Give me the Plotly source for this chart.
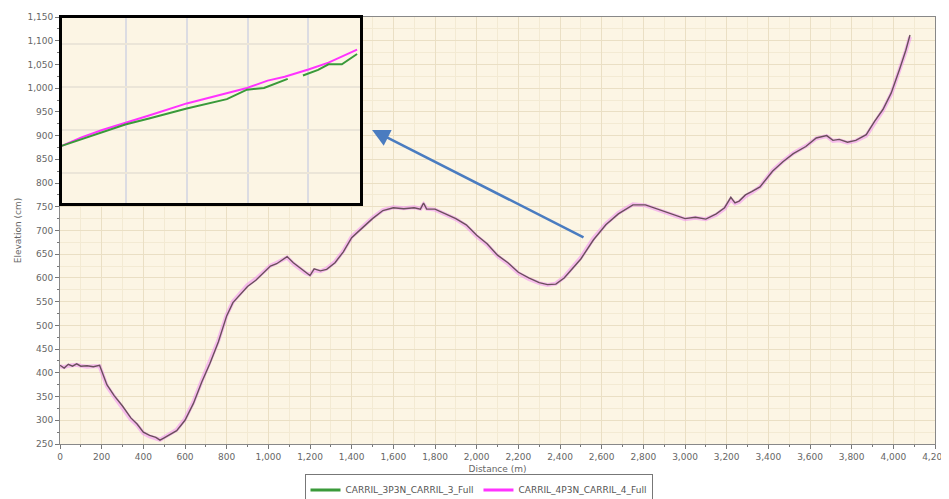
import plotly.graph_objects as go

# ---- main profile (distance in m, elevation) ----
dist = [0, 20, 40, 60, 80, 100, 130, 160, 190, 200, 225, 260, 300, 340, 370, 400, 430, 460, 480, 500,
        530, 560, 600, 640, 680, 720, 760, 800, 830, 860, 900, 940, 980, 1010, 1040, 1070, 1090, 1120,
        1150, 1180, 1200, 1220, 1250, 1280, 1320, 1360, 1400, 1450, 1500, 1550, 1600, 1650, 1700, 1730,
        1745, 1760, 1800, 1850, 1900, 1950, 2000, 2050, 2100, 2150, 2200, 2250, 2300, 2340, 2380, 2420,
        2460, 2500, 2560, 2620, 2680, 2750, 2810, 2850, 2880, 2940, 3000, 3050, 3100, 3150, 3190, 3220,
        3240, 3260, 3290, 3320, 3360, 3420, 3470, 3520, 3580, 3630, 3680, 3710, 3740, 3780, 3820, 3870,
        3910, 3950, 3990, 4030, 4060, 4080]
elev_3 = [416, 410, 418, 414, 419, 414, 415, 413, 416, 405, 375, 352, 330, 305, 292, 275, 268, 264, 258, 263,
          270, 278, 300, 335, 380, 420, 465, 520, 548, 562, 582, 595, 612, 625, 630, 638, 645, 632,
          622, 612, 605, 619, 615, 618, 632, 655, 685, 705, 725, 742, 748, 746, 748, 745,
          758, 745, 745, 735, 725, 712, 690, 672, 648, 632, 612, 600, 590, 586, 587, 600,
          620, 640, 680, 712, 735, 754, 754, 748, 742, 733, 725, 728, 724, 735, 748, 770,
          758, 762, 775, 782, 792, 825, 845, 862, 877, 895, 900, 890, 892, 886, 890, 902,
          930, 955, 990, 1040, 1080, 1112]
elev_4 = [414, 412, 415, 416, 417, 415, 413, 414, 414, 402, 372, 350, 327, 302, 290, 273, 266, 262, 259, 264,
          272, 280, 303, 338, 383, 423, 468, 522, 550, 565, 585, 598, 614, 626, 632, 640, 643, 630,
          620, 610, 607, 616, 614, 620, 634, 657, 687, 707, 727, 743, 749, 747, 749, 746,
          755, 746, 744, 734, 724, 710, 688, 670, 646, 630, 610, 598, 589, 585, 588, 602,
          622, 643, 683, 714, 737, 755, 753, 747, 741, 732, 724, 727, 724, 733, 746, 766,
          757, 760, 772, 780, 792, 826, 846, 863, 878, 894, 899, 889, 890, 885, 889, 900,
          928, 953, 988, 1038, 1078, 1108]

# ---- zoomed inset (relative units) ----
inset_x_4 = [-6, 27, 61, 99, 138, 200, 266, 299, 333, 361, 400, 433, 480]
inset_y_4 = [6.2, 8.2, 9.9, 11.5, 13.3, 16.1, 18.5, 19.7, 21.4, 22.3, 24.0, 25.6, 28.6]
inset_x_3 = [-6, 27, 61, 99, 138, 200, 266, 299, 327, 366, None, 391, 416, 433, 455, 480]
inset_y_3 = [6.2, 7.8, 9.4, 11.2, 12.6, 14.9, 17.1, 19.3, 19.7, 21.8, None, 22.6, 23.9, 25.2, 25.2, 27.6]

name_3 = "CARRIL_3P3N_CARRIL_3_Full"
name_4 = "CARRIL_4P3N_CARRIL_4_Full"
green = "#3a9a3a"
magenta = "#ff33ff"

fig = go.Figure()

# main traces
fig.add_trace(go.Scatter(x=dist, y=elev_4, mode="lines", showlegend=False,
                         line=dict(color="rgba(240,140,240,0.55)", width=4), hoverinfo="skip"))
fig.add_trace(go.Scatter(x=dist, y=elev_3, mode="lines", showlegend=False,
                         line=dict(color="#6a4f5c", width=1.4)))

# legend entries
fig.add_trace(go.Scatter(x=[None], y=[None], mode="lines", name=name_3, line=dict(color=green, width=3)))
fig.add_trace(go.Scatter(x=[None], y=[None], mode="lines", name=name_4, line=dict(color=magenta, width=3)))

# inset traces
fig.add_trace(go.Scatter(x=inset_x_4, y=inset_y_4, mode="lines", showlegend=False, xaxis="x2", yaxis="y2",
                         line=dict(color=magenta, width=2)))
fig.add_trace(go.Scatter(x=inset_x_3, y=inset_y_3, mode="lines", showlegend=False, xaxis="x2", yaxis="y2",
                         line=dict(color=green, width=2), connectgaps=False))

tickfont = dict(family="DejaVu Sans", size=9, color="#666666")

fig.update_layout(
    width=941, height=491,
    margin=dict(l=52, r=14, t=9, b=55),
    paper_bgcolor="white",
    plot_bgcolor="#fcf5e4",
    xaxis=dict(range=[0, 4200], tickvals=list(range(0, 4201, 200)), tickformat=",",
               showgrid=True, gridcolor="#eadfc4", gridwidth=1,
               minor=dict(dtick=100, showgrid=True, gridcolor="#f3ead3", ticks="outside", ticklen=2, tickcolor="#777"),
               ticks="outside", ticklen=4, tickcolor="#777",
               showline=True, linecolor="#888888", linewidth=1, mirror=True,
               zeroline=False, tickfont=tickfont, automargin=False,
               title=dict(text="Distance (m)", font=dict(family="DejaVu Sans", size=9, color="#666666"), standoff=10),
               domain=[0, 1]),
    yaxis=dict(range=[250, 1150], tickvals=list(range(250, 1151, 50)), tickformat=",",
               showgrid=True, gridcolor="#eadfc4", gridwidth=1,
               minor=dict(dtick=25, showgrid=True, gridcolor="#f3ead3", ticks="outside", ticklen=2, tickcolor="#777"),
               ticks="outside", ticklen=4, tickcolor="#777",
               showline=True, linecolor="#888888", linewidth=1, mirror=True,
               zeroline=False, tickfont=tickfont, automargin=False,
               title=dict(text="Elevation (cm)", font=dict(family="DejaVu Sans", size=9, color="#666666"), standoff=4),
               domain=[0, 1]),
    xaxis2=dict(domain=[0.0023, 0.343], anchor="y2", range=[-5, 485], tickvals=[100, 200, 300, 400],
                showticklabels=False, ticks="", showgrid=True, gridcolor="#dcdce2", gridwidth=1.5,
                showline=True, linecolor="black", linewidth=3, mirror=True, zeroline=False, automargin=False),
    yaxis2=dict(domain=[0.564, 0.998], anchor="x2", range=[-7.1, 36], tickvals=[0, 10, 20, 30],
                showticklabels=False, ticks="", showgrid=True, gridcolor="#ebe5d8", gridwidth=1.5,
                showline=True, linecolor="black", linewidth=3, mirror=True, zeroline=False, automargin=False),
    legend=dict(orientation="h", x=0.5, xanchor="center", xref="container",
                y=0.05, yanchor="top", yref="container",
                bgcolor="white", bordercolor="#777777", borderwidth=1,
                font=dict(family="DejaVu Sans", size=9, color="#555555"),
                tracegroupgap=0),
    annotations=[dict(x=1498, y=912, xref="x", yref="y", ax=2520, ay=684, axref="x", ayref="y",
                      showarrow=True, arrowhead=2, arrowsize=1.4, arrowwidth=2.5, arrowcolor="#4a7cc0",
                      text="")],
)

fig.write_html("out.html")
